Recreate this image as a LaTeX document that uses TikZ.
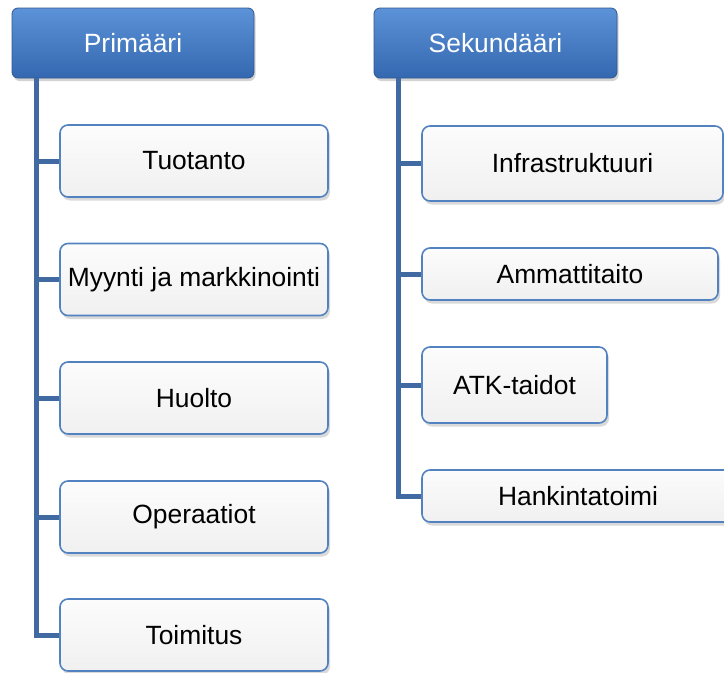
\documentclass[tikz,border=0pt]{standalone}
\usepackage{fontspec}
\setmainfont{Liberation Sans}
\usetikzlibrary{shadows}
\definecolor{conncol}{RGB}{65,106,162}
\definecolor{hdtop}{RGB}{92,146,216}
\definecolor{hdbot}{RGB}{52,104,176}
\definecolor{hdborder}{RGB}{48,88,145}
\definecolor{boxborder}{RGB}{82,131,192}
\definecolor{boxtop}{RGB}{252,252,252}
\definecolor{boxbot}{RGB}{240,240,240}
\tikzset{
  hdbox/.style={draw=hdborder, line width=0.8pt, rounded corners=6pt,
    top color=hdtop, bottom color=hdbot, text=white,
    minimum width=242pt, minimum height=70pt, inner sep=0pt,
    font=\fontsize{26.4}{30}\selectfont,
    drop shadow={shadow xshift=1.5pt, shadow yshift=-3pt, opacity=0.35}},
  itembox/.style={draw=boxborder, line width=1.6pt, rounded corners=8pt,
    top color=boxtop, bottom color=boxbot, text=black,
    inner sep=0pt, font=\fontsize{26.4}{30}\selectfont,
    drop shadow={shadow xshift=2pt, shadow yshift=-3.5pt, opacity=0.3}},
  conn/.style={draw=conncol, line width=5pt}
}
\begin{document}
\begin{tikzpicture}[x=1pt,y=-1pt]
\useasboundingbox (0,0) rectangle (724,673);
% headers
\node[hdbox] (h1) at (133,43) {Primääri};
\node[hdbox, minimum width=243pt] (h2) at (495.5,43) {Sekundääri};
% trunk start points
\coordinate (lt) at (36,78);
\coordinate (rt) at (398,78);
% left items
\node[itembox, minimum width=268pt, minimum height=72pt] (a1) at (194,161) {Tuotanto};
\node[itembox, minimum width=268pt, minimum height=72pt] (a2) at (194,279.5) {Myynti ja markkinointi};
\node[itembox, minimum width=268pt, minimum height=72pt] (a3) at (194,398) {Huolto};
\node[itembox, minimum width=268pt, minimum height=72pt] (a4) at (194,517) {Operaatiot};
\node[itembox, minimum width=268pt, minimum height=72pt] (a5) at (194,635) {Toimitus};
% right items
\node[itembox, minimum width=301pt, minimum height=75pt] (b1) at (572.5,163.5) {Infrastruktuuri};
\node[itembox, minimum width=296pt, minimum height=52pt] (b2) at (570,274) {Ammattitaito};
\node[itembox, minimum width=185pt, minimum height=76pt] (b3) at (514.5,385) {ATK-taidot};
\node[itembox, minimum width=312pt, minimum height=52pt] (b4) at (578,496) {Hankintatoimi};
% connectors (drawn behind boxes visually fine since they end at box edges)
\draw[conn] (lt) |- (a5.west);
\foreach \n in {a1,a2,a3,a4} \draw[conn] (lt |- \n.west) -- (\n.west);
\draw[conn] (rt) |- (b4.west);
\foreach \n in {b1,b2,b3} \draw[conn] (rt |- \n.west) -- (\n.west);
\end{tikzpicture}
\end{document}
